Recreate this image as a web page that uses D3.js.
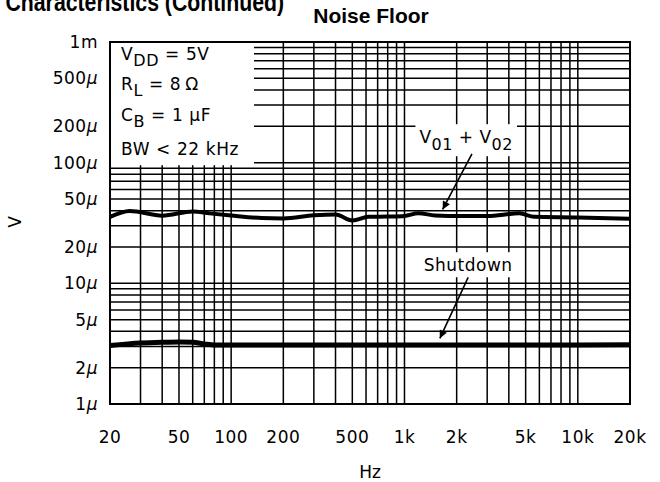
<!DOCTYPE html>
<html>
<head>
<meta charset="utf-8">
<script src="https://cdn.jsdelivr.net/npm/d3@7"></script>
<style>
  html, body { margin: 0; padding: 0; background: #fff; }
  svg { display: block; }
  .plot-font { font-family: "DejaVu Sans", sans-serif; }
</style>
</head>
<body>
<svg id="chart" width="660" height="482"></svg>
<script>
// Frequency points (Hz) and measured noise floor (V) for each trace
const freqOutput = [20, 26, 40, 60, 75, 100, 150, 200, 300, 400, 500, 620, 800, 1000, 1200, 1500, 1800, 3000, 4600, 5600, 10000, 20000];
const noiseOutput = [35.5e-6, 39.8e-6, 36.4e-6, 39.4e-6, 38e-6, 36.5e-6, 34.8e-6, 34.5e-6, 36.6e-6, 37.2e-6, 33.2e-6, 35.6e-6, 35.8e-6, 36.2e-6, 38.1e-6, 36.5e-6, 36.2e-6, 36.2e-6, 38e-6, 35.6e-6, 35.2e-6, 34.3e-6];

const freqShutdown = [20, 30, 40, 50, 60, 70, 80, 100, 1000, 10000, 20000];
const noiseShutdown = [3.05e-6, 3.2e-6, 3.25e-6, 3.27e-6, 3.25e-6, 3.15e-6, 3.08e-6, 3.08e-6, 3.08e-6, 3.08e-6, 3.1e-6];

// Axis ticks
const xTickValues = [20, 50, 100, 200, 500, 1000, 2000, 5000, 10000, 20000];
const xTickLabels = ["20", "50", "100", "200", "500", "1k", "2k", "5k", "10k", "20k"];
const yTickValues = [1e-3, 5e-4, 2e-4, 1e-4, 5e-5, 2e-5, 1e-5, 5e-6, 2e-6, 1e-6];
const yTickNumbers = ["1", "500", "200", "100", "50", "20", "10", "5", "2", "1"];
const yTickUnits = ["m", "\u03bc", "\u03bc", "\u03bc", "\u03bc", "\u03bc", "\u03bc", "\u03bc", "\u03bc", "\u03bc"];

// Test conditions listed in the corner box
const conditionNames = [["V", "DD"], ["R", "L"], ["C", "B"], ["BW", ""]];
const conditionValues = ["=  5V", "=  8\u2009\u03a9", "=  1 \u03bcF", "<  22 kHz"];

const svg = d3.select("#chart");
const plotLeft = 110, plotRight = 630, plotTop = 42, plotBottom = 404;

const x = d3.scaleLog().domain([20, 20000]).range([plotLeft, plotRight]);
const y = d3.scaleLog().domain([1e-6, 1e-3]).range([plotBottom, plotTop]);

// Log grid: 1..9 within each decade
const xGrid = [];
[10, 100, 1000, 10000].forEach(d => { for (let k = 1; k <= 9; k++) { const v = d * k; if (v >= 20 && v <= 20000) xGrid.push(v); } });
const yGrid = [];
[1e-6, 1e-5, 1e-4].forEach(d => { for (let k = 1; k <= 9; k++) yGrid.push(d * k); });
yGrid.push(1e-3);

const grid = svg.append("g").attr("stroke", "#000").attr("stroke-width", 1.5);
grid.selectAll("line.vx").data(xGrid).join("line")
  .attr("x1", d => x(d)).attr("x2", d => x(d))
  .attr("y1", plotTop).attr("y2", plotBottom);
grid.selectAll("line.hy").data(yGrid).join("line")
  .attr("y1", d => y(d)).attr("y2", d => y(d))
  .attr("x1", plotLeft).attr("x2", plotRight);

// Conditions box masks the grid in the upper-left corner
svg.append("rect")
  .attr("x", plotLeft + 1).attr("y", plotTop + 1)
  .attr("width", 143).attr("height", y(1e-4) - plotTop + 1.5)
  .attr("fill", "#fff");

// Curves
const line = d3.line().x(d => x(d[0])).y(d => y(d[1])).curve(d3.curveMonotoneX);
svg.append("path")
  .datum(freqOutput.map((f, i) => [f, noiseOutput[i]]))
  .attr("d", line).attr("fill", "none").attr("stroke", "#000").attr("stroke-width", 4)
  .attr("stroke-linejoin", "round");
svg.append("path")
  .datum(freqShutdown.map((f, i) => [f, noiseShutdown[i]]))
  .attr("d", line).attr("fill", "none").attr("stroke", "#000").attr("stroke-width", 5)
  .attr("stroke-linejoin", "round");

// Frame
svg.append("rect").attr("x", plotLeft).attr("y", plotTop).attr("width", plotRight - plotLeft).attr("height", plotBottom - plotTop)
  .attr("fill", "none").attr("stroke", "#000").attr("stroke-width", 2);

// X tick labels
svg.append("g").attr("class", "plot-font").selectAll("text").data(xTickValues).join("text")
  .attr("x", d => x(d)).attr("y", 443)
  .attr("text-anchor", "middle").attr("font-size", 17).attr("letter-spacing", 0.5)
  .text((d, i) => xTickLabels[i]);

// Y tick labels
const yt = svg.append("g").attr("class", "plot-font").selectAll("text").data(yTickValues).join("text")
  .attr("x", 98).attr("y", d => y(d) + 6)
  .attr("text-anchor", "end").attr("font-size", 17).attr("letter-spacing", 0.5);
yt.append("tspan").text((d, i) => yTickNumbers[i]);
yt.append("tspan").attr("font-style", (d, i) => yTickUnits[i] === "m" ? "normal" : "italic")
  .text((d, i) => yTickUnits[i]);

// Axis titles
svg.append("text").attr("class", "plot-font")
  .attr("transform", "translate(21,222) rotate(-90)")
  .attr("text-anchor", "middle").attr("font-size", 17).text("V");
svg.append("text").attr("class", "plot-font")
  .attr("x", 370).attr("y", 478).attr("text-anchor", "middle").attr("font-size", 17).text("Hz");

// Chart title and the page heading running off the top edge
svg.append("text")
  .attr("x", 371).attr("y", 23).attr("text-anchor", "middle")
  .attr("font-family", "Liberation Sans, Arial, sans-serif").attr("font-weight", "bold").attr("font-size", 21)
  .text("Noise Floor");
svg.append("text")
  .attr("transform", "translate(284,11) scale(0.85,1)").attr("text-anchor", "end")
  .attr("font-family", "Liberation Sans, Arial, sans-serif").attr("font-weight", "bold").attr("font-size", 25)
  .text("Typical Performance Characteristics (Continued)");

// Conditions text
const cond = svg.append("g").attr("class", "plot-font");
const condBaselines = [60, 90, 121, 155];
conditionNames.forEach((n, i) => {
  const t = cond.append("text").attr("x", 121).attr("y", condBaselines[i]).attr("font-size", 17).attr("letter-spacing", 0.6);
  t.append("tspan").text(n[0]);
  if (n[1]) t.append("tspan").attr("dy", 6).attr("font-size", 16).text(n[1]);
  t.append("tspan").attr("dy", n[1] ? -6 : 0).text("  " + conditionValues[i]);
});

// Callouts with arrows
const defs = svg.append("defs");
defs.append("marker").attr("id", "arrow").attr("viewBox", "0 0 10 10")
  .attr("refX", 10).attr("refY", 5).attr("markerWidth", 14).attr("markerHeight", 8)
  .attr("markerUnits", "userSpaceOnUse").attr("orient", "auto")
  .append("path").attr("d", "M0,0 L10,5 L0,10 z").attr("fill", "#000");

function callout(parts, lx, ly, from, to) {
  const g = svg.append("g");
  const bg = g.append("rect").attr("fill", "#fff");
  const t = g.append("text").attr("class", "plot-font").attr("x", x(lx)).attr("y", y(ly))
    .attr("text-anchor", "middle").attr("font-size", 17).attr("letter-spacing", 0.5);
  parts.forEach(p => t.append("tspan").attr("dy", p.dy || 0).attr("font-size", p.size || 17).text(p.text));
  const b = t.node().getBBox();
  bg.attr("x", b.x - 4).attr("y", b.y - 3).attr("width", b.width + 8).attr("height", b.height + 5);
  g.append("line")
    .attr("x1", x(from[0])).attr("y1", y(from[1]))
    .attr("x2", x(to[0])).attr("y2", y(to[1]))
    .attr("stroke", "#000").attr("stroke-width", 1.6).attr("marker-end", "url(#arrow)");
}

callout([
  { text: "V" }, { text: "01", dy: 7, size: 16 }, { text: "  +  V", dy: -7 }, { text: "02", dy: 7, size: 16 }
], 2270, 145e-6, [2450, 118e-6], [1660, 41e-6]);

callout([{ text: "Shutdown" }], 2330, 12.6e-6, [2330, 11.2e-6], [1600, 3.5e-6]);
</script>
</body>
</html>
